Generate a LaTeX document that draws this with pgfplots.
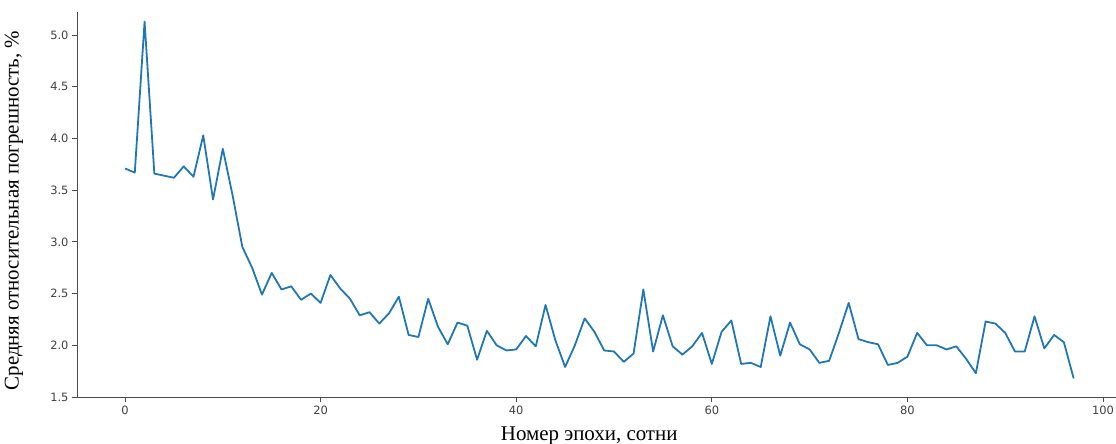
\documentclass[border=0pt]{standalone}
\usepackage{fontspec}
\setmainfont{Liberation Serif}
\newfontfamily\ticksfont{DejaVu Sans}
\usepackage{pgfplots}
\pgfplotsset{compat=1.18}
\definecolor{mplblue}{HTML}{1F77B4}
\pgfplotstableread{
x y
0 3.71
1 3.67
2 5.13
3 3.66
4 3.64
5 3.62
6 3.73
7 3.63
8 4.03
9 3.41
10 3.90
11 3.45
12 2.95
13 2.75
14 2.49
15 2.70
16 2.54
17 2.57
18 2.44
19 2.50
20 2.41
21 2.68
22 2.55
23 2.45
24 2.29
25 2.32
26 2.21
27 2.31
28 2.47
29 2.10
30 2.08
31 2.45
32 2.18
33 2.01
34 2.22
35 2.19
36 1.86
37 2.14
38 2.00
39 1.95
40 1.96
41 2.09
42 1.99
43 2.39
44 2.05
45 1.79
46 2.00
47 2.26
48 2.13
49 1.95
50 1.94
51 1.84
52 1.92
53 2.54
54 1.94
55 2.29
56 1.99
57 1.91
58 1.99
59 2.12
60 1.82
61 2.13
62 2.24
63 1.82
64 1.83
65 1.79
66 2.28
67 1.90
68 2.22
69 2.01
70 1.96
71 1.83
72 1.85
73 2.12
74 2.41
75 2.06
76 2.03
77 2.01
78 1.81
79 1.83
80 1.89
81 2.12
82 2.00
83 2.00
84 1.96
85 1.99
86 1.87
87 1.73
88 2.23
89 2.21
90 2.12
91 1.94
92 1.94
93 2.28
94 1.97
95 2.10
96 2.03
97 1.68
}\datatable
\begin{document}
\begin{tikzpicture}[x=1bp,y=1bp]
\begin{axis}[
  at={(0,0)}, anchor=south west,
  scale only axis,
  width=1039bp, height=385bp,
  xmin=-4.91, xmax=101.33,
  ymin=1.5, ymax=5.223,
  axis x line=bottom, axis y line=left,
  axis line style={-, black!70, line width=0.8pt},
  xtick={0,20,40,60,80,100},
  ytick={1.5,2.0,2.5,3.0,3.5,4.0,4.5,5.0},
  yticklabel style={/pgf/number format/.cd, fixed, fixed zerofill, precision=1},
  /pgf/number format/assume math mode=true,
  tick label style={font=\ticksfont\fontsize{11.5}{13}\selectfont, text=black!75},
  tick style={black!70, line width=0.8pt},
  tick align=outside,
  major tick length=5bp,
  xlabel={Номер эпохи, сотни},
  ylabel={Средняя относительная погрешность, \%},
  label style={font=\fontsize{21}{23}\selectfont},
  xlabel style={at={(axis description cs:0.493,0)}, anchor=center, yshift=-39bp},
  ylabel style={at={(axis description cs:0,0.5)}, anchor=center, yshift=63bp, xshift=-6bp},
  clip=false,
]
\addplot[mplblue, line width=1.8pt, line join=round] table[x=x,y=y] {\datatable};
\end{axis}
\pgfresetboundingbox
\path (-77bp,-47bp) rectangle (1039bp,397bp);
\end{tikzpicture}
\end{document}
